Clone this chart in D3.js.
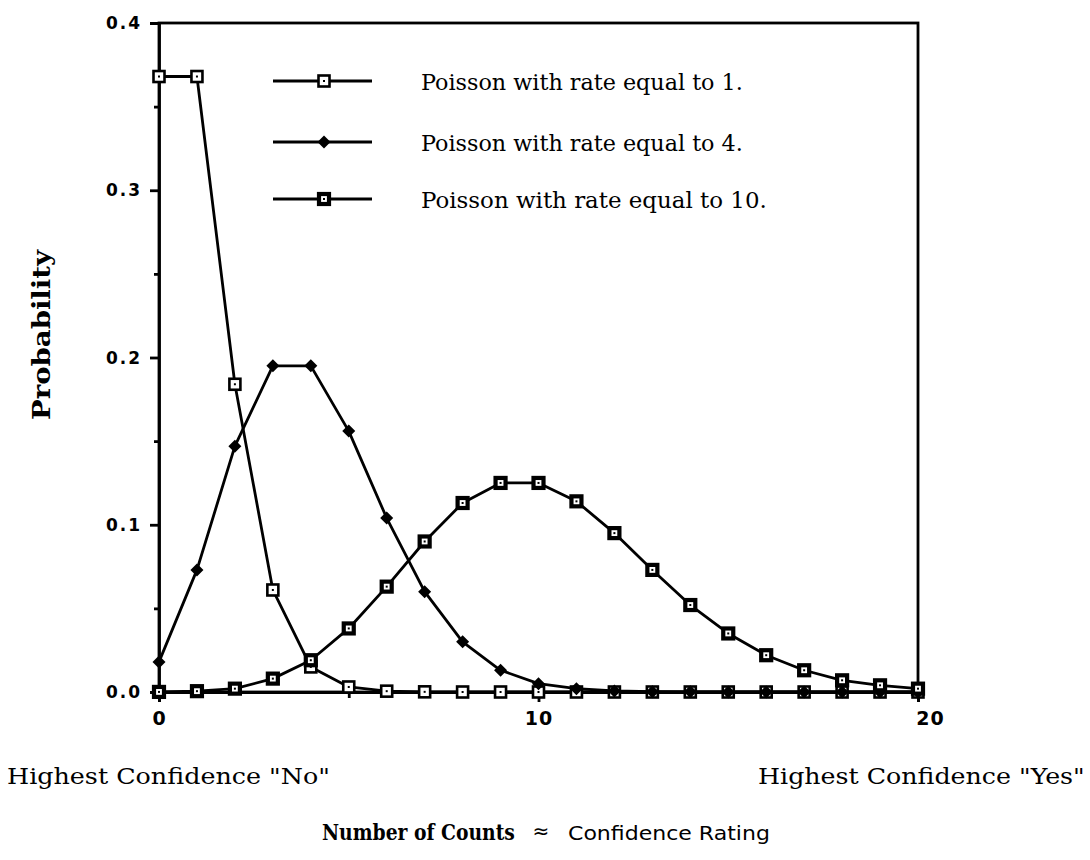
<!DOCTYPE html>
<html>
<head>
<meta charset="utf-8">
<script src="https://cdn.jsdelivr.net/npm/d3@7/dist/d3.min.js"></script>
<style>
  html, body { margin: 0; padding: 0; background: #fff; }
  svg { display: block; }
</style>
</head>
<body>
<svg id="chart" width="1090" height="860"></svg>
<script>
// ---- data ----
const counts = [0,1,2,3,4,5,6,7,8,9,10,11,12,13,14,15,16,17,18,19,20];
const rate1  = [0.368,0.368,0.184,0.061,0.015,0.003,0.0005,0.0001,0,0,0,0,0,0,0,0,0,0,0,0,0];
const rate4  = [0.018,0.073,0.147,0.195,0.195,0.156,0.104,0.060,0.030,0.013,0.005,0.002,0.0006,0.0002,0.0001,0,0,0,0,0,0];
const rate10 = [0.00005,0.0005,0.002,0.008,0.019,0.038,0.063,0.090,0.113,0.125,0.125,0.114,0.095,0.073,0.052,0.035,0.022,0.013,0.007,0.004,0.002];
const seriesNames = ["Poisson with rate equal to 1.", "Poisson with rate equal to 4.", "Poisson with rate equal to 10."];
const yTicks = [0, 0.1, 0.2, 0.3, 0.4];
const yMinorTicks = [0.05, 0.15, 0.25, 0.35];
const xTicks = [0, 10, 20];
const xMinorTicks = [5, 15];
const yTitle = "Probability";
const xLeftNote = "Highest Confidence \"No\"";
const xRightNote = "Highest Confidence \"Yes\"";
const xTitleBold = "Number of Counts";
const xTitleSym = "\u2248";
const xTitleRest = "Confidence Rating";

// ---- layout ----
const svg = d3.select("#chart");
const L = 159, R = 918, T = 23, B = 692;
const x = d3.scaleLinear().domain([0, 20]).range([L, R]);
const y = d3.scaleLinear().domain([0, 0.4]).range([B, T]);

const ink = "#000";
const SW = 2.8;

// helper: text squeezed horizontally to a target width (via transform, so its box is exact)
function fitText(px, py, str, width, attrs, rotate) {
  const g = svg.append("g");
  const t = g.append("text").text(str).attr("fill", ink);
  Object.entries(attrs).forEach(([k, v]) => t.attr(k, v));
  const w = t.node().getComputedTextLength();
  const s = width / w;
  if (rotate) {
    t.attr("text-anchor", "middle");
    g.attr("transform", `translate(${px},${py}) rotate(-90) scale(${s},1)`);
  } else {
    g.attr("transform", `translate(${px},${py}) scale(${s},1)`);
  }
  return t;
}

// frame
svg.append("rect").attr("x", L).attr("y", T).attr("width", R - L).attr("height", B - T)
  .attr("fill", "none").attr("stroke", ink).attr("stroke-width", SW);

// y axis
const yAxis = d3.axisLeft(y).tickValues(yTicks).tickFormat(d3.format(".1f")).tickSize(9).tickPadding(8);
const gy = svg.append("g").attr("transform", `translate(${L},0)`).call(yAxis);
gy.select(".domain").attr("stroke-width", SW);
gy.selectAll(".tick line").attr("stroke-width", SW);
gy.selectAll(".tick text").attr("font-family", "'DejaVu Sans', sans-serif").attr("font-weight", "bold")
  .attr("font-size", 17).attr("letter-spacing", 2).attr("fill", ink).attr("dy", "0.33em");
const yMinor = d3.axisLeft(y).tickValues(yMinorTicks).tickFormat("").tickSize(5);
const gym = svg.append("g").attr("transform", `translate(${L},0)`).call(yMinor);
gym.select(".domain").remove();
gym.selectAll(".tick line").attr("stroke-width", SW);

// x axis
const xAxis = d3.axisBottom(x).tickValues(xTicks).tickFormat(d3.format("d")).tickSize(10).tickPadding(10);
const gx = svg.append("g").attr("transform", `translate(0,${B})`).call(xAxis);
gx.select(".domain").attr("stroke-width", SW);
gx.selectAll(".tick line").attr("stroke-width", SW);
gx.selectAll(".tick text").attr("font-family", "'DejaVu Sans', sans-serif").attr("font-weight", "bold")
  .attr("font-size", 19).attr("letter-spacing", 1).attr("fill", ink)
  .attr("dx", (d, i) => i === xTicks.length - 1 ? 12 : 0);
const xMinor = d3.axisBottom(x).tickValues(xMinorTicks).tickFormat("").tickSize(6);
const gxm = svg.append("g").attr("transform", `translate(0,${B})`).call(xMinor);
gxm.select(".domain").remove();
gxm.selectAll(".tick line").attr("stroke-width", SW);

// ---- series ----
const series = [rate1, rate4, rate10];
const line = d3.line().x((d, i) => x(counts[i])).y(d => y(d));

function drawMarker(g, kind) {
  if (kind === 0) {
    g.append("rect").attr("x", -5.5).attr("y", -5.5).attr("width", 11).attr("height", 11)
      .attr("fill", "#fff").attr("stroke", ink).attr("stroke-width", 2.6);
    g.append("rect").attr("x", -1).attr("y", -1).attr("width", 2).attr("height", 2).attr("fill", ink);
  } else if (kind === 1) {
    g.append("path").attr("d", "M0,-6.5L6.5,0L0,6.5L-6.5,0Z").attr("fill", ink);
  } else {
    g.append("rect").attr("x", -5).attr("y", -5).attr("width", 10).attr("height", 10)
      .attr("fill", "#fff").attr("stroke", ink).attr("stroke-width", 4.2);
    g.append("rect").attr("x", -1).attr("y", -1).attr("width", 2).attr("height", 2).attr("fill", ink);
  }
}

series.forEach((vals, k) => {
  svg.append("path").datum(vals).attr("d", line)
    .attr("fill", "none").attr("stroke", ink).attr("stroke-width", SW).attr("stroke-linejoin", "round");
});
series.forEach((vals, k) => {
  const gk = svg.append("g");
  vals.forEach((v, i) => {
    const m = gk.append("g").attr("transform", `translate(${x(counts[i])},${y(v)})`);
    drawMarker(m, k);
  });
});

// ---- legend ----
const legY = [81, 142, 199];
const serifAttrs = { "font-family": "'DejaVu Serif', serif", "font-size": 22 };
seriesNames.forEach((name, k) => {
  const ly = legY[k];
  svg.append("line").attr("x1", 273).attr("x2", 372).attr("y1", ly).attr("y2", ly)
    .attr("stroke", ink).attr("stroke-width", SW);
  const m = svg.append("g").attr("transform", `translate(324,${ly})`);
  drawMarker(m, k);
  fitText(421, ly + 9, name, k === 2 ? 346 : 322, serifAttrs);
});

// ---- titles ----
fitText(50, 335, yTitle, 170, { "font-family": "'DejaVu Serif', serif", "font-weight": "bold", "font-size": 24 }, true);

fitText(7, 784, xLeftNote, 323, serifAttrs);
fitText(758, 784, xRightNote, 327, serifAttrs);

fitText(322, 840, xTitleBold, 193, { "font-family": "'DejaVu Serif', serif", "font-weight": "bold", "font-size": 22 });
svg.append("text").attr("x", 541).attr("y", 838).attr("text-anchor", "middle").text(xTitleSym)
  .attr("font-family", "'DejaVu Sans', sans-serif").attr("font-size", 20).attr("fill", ink);
fitText(568, 840, xTitleRest, 202, { "font-family": "'DejaVu Sans', sans-serif", "font-size": 20 });
</script>
</body>
</html>
